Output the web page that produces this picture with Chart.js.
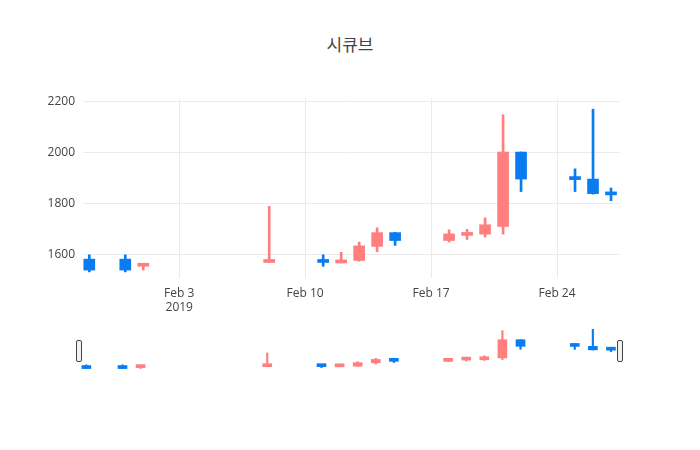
<!DOCTYPE html>
<html><head><meta charset="utf-8">
<script src="https://cdn.jsdelivr.net/npm/chart.js@4"></script>
<style>
body{margin:0;background:#fff;width:700px;height:450px;position:relative;overflow:hidden;font-family:"Open Sans",sans-serif}
#title{position:absolute;top:31px;left:0;width:700px;text-align:center;font-size:17px;color:#444;font-family:"Open Sans","Noto Sans CJK KR",sans-serif}
#main{position:absolute;left:0;top:0}
#sl{position:absolute;left:80px;top:329px}
.h{position:absolute;top:340px;width:4px;height:20px;border:1px solid #444;border-radius:2px;background:#f2f2f2}
</style></head><body>
<div id="title">시큐브</div>
<canvas id="main" width="700" height="450"></canvas>
<canvas id="sl" width="540" height="40"></canvas>
<div class="h" style="left:76px"></div>
<div class="h" style="left:617px"></div>
<script>
// day offsets relative to Feb 3, 2019
const days  = [-5,-3,-2,5,8,9,10,11,12,15,16,17,18,19,22,23,24];
const open  = [1583,1583,1555,1570,1575,1568,1578,1633,1687,1656,1676,1681,1711,2003,1900,1897,1840];
const close = [1540,1540,1562,1577,1570,1580,1635,1687,1656,1682,1686,1718,2003,1897,1895,1840,1835];
const high  = [1600,1600,1565,1790,1600,1610,1650,1706,1688,1698,1700,1745,2149,2003,1937,2171,1862];
const low   = [1533,1533,1540,1570,1555,1568,1575,1612,1637,1650,1660,1670,1681,1848,1848,1838,1812];
const tickDays = [0,7,14,21];
const tickLabels = [["Feb 3","2019"],"Feb 10","Feb 17","Feb 24"];
const yTicks = [1600,1800,2000,2200];

const UP='#ff7f7f', DOWN='#0a7cf2';
const col = ctx => close[ctx.dataIndex] >= open[ctx.dataIndex] ? UP : DOWN;
function sets(bw, ww){
  return [
    {data: days.map((d,i)=>({x:d,y:[low[i],high[i]]})), backgroundColor:col, barThickness:ww, grouped:false},
    {data: days.map((d,i)=>({x:d,y:[Math.min(open[i],close[i]),Math.max(open[i],close[i])]})), backgroundColor:col, barThickness:bw, grouped:false, minBarLength:3}
  ];
}
Chart.defaults.font.family='"Open Sans", sans-serif';
Chart.defaults.animation=false;
new Chart(document.getElementById('main'),{
  type:'bar',
  data:{datasets:sets(11,2)},
  options:{responsive:false,plugins:{legend:{display:false},tooltip:{enabled:false}},
    layout:{padding:{top:98,right:80,left:0,bottom:0}},
    scales:{
      x:{type:'linear',min:-5.35,max:24.5,offset:false,bounds:'ticks',grid:{color:'#ebebeb',drawTicks:false,offset:false},border:{display:false},
        afterBuildTicks:s=>{s.ticks=tickDays.map(v=>({value:v}));},
        afterFit:s=>{s.height=172;},
        ticks:{color:'#444',font:{size:12},padding:8,maxRotation:0,autoSkip:false,callback:(v)=>tickLabels[tickDays.indexOf(v)]}},
      y:{min:1509,max:2215,grid:{color:'#ebebeb',drawTicks:false},border:{display:false},
        afterBuildTicks:s=>{s.ticks=yTicks.map(v=>({value:v}));},
        afterFit:s=>{s.width=83;},
        ticks:{color:'#444',font:{size:12},padding:8,callback:v=>String(v)}}
    }}
});
new Chart(document.getElementById('sl'),{
  type:'bar',
  data:{datasets:sets(9,1.5)},
  options:{responsive:false,plugins:{legend:{display:false},tooltip:{enabled:false}},
    scales:{x:{type:'linear',min:-5.35,max:24.5,offset:false,display:false},y:{min:1533,max:2175,display:false}}}
});
</script></body></html>
